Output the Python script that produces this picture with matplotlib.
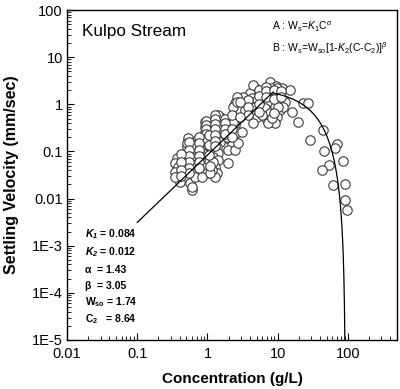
import numpy as np
import matplotlib
matplotlib.use("Agg")
import matplotlib.pyplot as plt

plt.rcParams["font.family"] = ["Liberation Sans", "DejaVu Sans"]
plt.rcParams["mathtext.fontset"] = "custom"
plt.rcParams["mathtext.rm"] = "Liberation Sans"
plt.rcParams["mathtext.it"] = "Liberation Sans:italic"
plt.rcParams["mathtext.bf"] = "Liberation Sans:bold"
plt.rcParams["mathtext.bfit"] = "Liberation Sans:italic:bold"

# measured data (concentration g/L, settling velocity mm/sec)
conc = [
    7.79, 9.49, 11.6, 15.0, 6.19, 4.77, 5.26, 4.04, 4.32, 3.22,
    2.64, 2.47, 3.22, 4.04, 2.91, 3.67, 5.09, 7.30, 10.1, 12.7,
    9.18, 6.61, 10.8, 7.79, 9.80, 7.06, 5.09, 4.46, 9.18, 7.30,
    19.5, 23.0, 27.1, 16.0, 44.3, 28.9, 45.8, 70.2, 65.7, 85.4,
    54.0, 42.9, 61.5, 91.2, 91.2, 97.4, 8.60, 11.9, 8.32, 4.46,
    7.30, 9.80, 5.99, 4.77, 3.43, 2.32, 2.64, 8.32, 10.1,
    2.47, 2.10, 1.90, 2.73, 2.32, 2.24, 1.97, 1.67, 1.51, 1.61,
    1.42, 1.51, 1.61, 1.20, 1.51, 1.37, 1.16, 1.42, 1.20, 1.42,
    1.97, 2.47, 0.924, 0.924, 0.924, 0.987, 0.866, 0.866, 0.838, 0.924,
    1.02, 1.28, 1.37, 1.28, 1.16, 0.711, 0.624, 0.784, 0.711, 0.624,
    0.784, 0.529, 0.512, 0.529, 0.480, 0.565, 0.449, 0.369, 0.345, 0.381,
    0.345, 0.435, 0.480, 0.624, 0.565, 0.603, 0.866, 0.987, 0.666, 0.838,
    2.73, 3.11, 1.42, 2.32, 1.90, 1.51, 0.407, 0.345, 0.435, 0.512,
    0.603, 0.711, 1.20,
    0.95, 0.95, 0.95, 0.95, 0.95, 1.05, 1.05, 1.05,
    1.30, 1.30, 1.30, 1.30, 1.30, 1.30, 1.30,
    1.80, 1.80, 1.80, 1.80, 0.75, 0.75, 0.75, 0.75, 0.75, 0.75,
    0.55, 0.55, 0.55, 0.55, 0.55, 0.55, 0.42, 0.42, 0.42, 0.42,
    2.20, 2.20, 2.20, 5.50, 5.50, 5.50, 5.50, 6.80, 6.80, 6.80,
    8.90, 8.90, 8.90, 11.0, 11.0, 3.80, 3.80, 3.80, 2.90, 2.90,
    1.10, 1.10,
]
velocity = [
    2.96, 2.43, 2.21, 2.00, 2.00, 2.21, 1.82, 1.73, 1.35, 1.42,
    1.42, 1.06, 1.06, 0.962, 0.753, 0.683, 1.23, 1.11, 1.23, 1.11,
    0.872, 0.831, 0.753, 0.650, 0.535, 0.462, 0.535, 0.399, 0.399, 0.399,
    0.419, 1.06, 1.06, 0.683, 0.283, 0.174, 0.101, 0.143, 0.117, 0.0622,
    0.0512, 0.0401, 0.0193, 0.0202, 0.00925, 0.00567, 1.73, 0.872, 2.21, 2.56,
    1.82, 2.21, 0.590, 0.872, 0.753, 0.872, 1.11, 0.509, 0.872,
    0.362, 0.257, 0.192, 0.257, 0.174, 0.136, 0.107, 0.328, 0.535, 0.419,
    0.328, 0.257, 0.201, 0.174, 0.158, 0.123, 0.107, 0.0920, 0.0757, 0.0654,
    0.0564, 0.107, 0.419, 0.328, 0.257, 0.201, 0.158, 0.123, 0.0966, 0.0757,
    0.0593, 0.0464, 0.0346, 0.0285, 0.0401, 0.174, 0.136, 0.117, 0.0920, 0.0721,
    0.0654, 0.192, 0.123, 0.0920, 0.0654, 0.0564, 0.0464, 0.0721, 0.0564, 0.0464,
    0.0364, 0.0346, 0.0271, 0.0401, 0.0212, 0.0151, 0.0464, 0.0346, 0.0285, 0.0285,
    0.150, 0.257, 0.590, 0.419, 0.201, 0.312, 0.0223, 0.0285, 0.0834, 0.150,
    0.0175, 0.0512, 0.0593,
    0.45, 0.37, 0.30, 0.24, 0.18, 0.22, 0.14, 0.085,
    0.60, 0.50, 0.38, 0.30, 0.22, 0.17, 0.13,
    0.50, 0.40, 0.30, 0.24, 0.20, 0.15, 0.11, 0.08, 0.06, 0.045,
    0.16, 0.11, 0.08, 0.06, 0.045, 0.035, 0.09, 0.06, 0.04, 0.03,
    0.60, 0.30, 0.20, 2.00, 1.50, 1.00, 0.70, 2.30, 1.90, 1.40,
    2.00, 1.30, 0.65, 1.90, 1.40, 1.25, 0.90, 0.60, 1.10, 0.55,
    0.035, 0.050,
]

# fitted parameters
K1 = 0.084
K2 = 0.012
alpha = 1.43
beta = 3.05
Wso = 1.74
C2 = 8.64

x_ticks = [0.01, 0.1, 1, 10, 100]
x_labels = ["0.01", "0.1", "1", "10", "100"]
y_ticks = [1e-5, 1e-4, 1e-3, 0.01, 0.1, 1, 10, 100]
y_labels = ["1E-5", "1E-4", "1E-3", "0.01", "0.1", "1", "10", "100"]

fig = plt.figure(figsize=(4, 3.89), dpi=100)
ax = fig.add_axes([0.1675, 0.126, 0.825, 0.848])

ax.scatter(conc, velocity, s=46, facecolors="white", edgecolors="#3a3a3a",
           linewidths=0.8, zorder=2)

# model A (flocculation range)
ca = np.logspace(np.log10(0.1), np.log10(C2), 200)
ax.plot(ca, K1 * ca ** alpha, color="black", lw=0.9, zorder=3)

# model B (hindered settling range)
c_end = C2 + 1.0 / K2
cb = np.concatenate([np.linspace(C2, c_end - 0.5, 400),
                     np.linspace(c_end - 0.5, c_end - 1e-6, 400)])
wb = Wso * (1 - K2 * (cb - C2)) ** beta
ax.plot(cb, wb, color="black", lw=0.9, zorder=3)

ax.set_xscale("log")
ax.set_yscale("log")
ax.set_xlim(0.01, 500)
ax.set_ylim(1e-5, 100)
ax.set_xticks(x_ticks, x_labels)
ax.set_yticks(y_ticks, y_labels)
ax.tick_params(which="both", direction="in", top=False, right=False,
               labelsize=10.5)
ax.tick_params(which="major", length=5, width=0.8)
ax.tick_params(which="minor", length=3, width=0.6)
ax.tick_params(axis="x", pad=5)
ax.tick_params(axis="y", pad=3)
for sp in ax.spines.values():
    sp.set_linewidth(1.0)

ax.set_xlabel("Concentration (g/L)", fontsize=11, fontweight="bold", labelpad=8)
ax.set_ylabel("Settling Velocity (mm/sec)", fontsize=11.5, fontweight="bold",
              labelpad=9)

ax.text(0.045, 0.921, "Kulpo Stream", transform=ax.transAxes, fontsize=12.3)
ax.text(0.62, 0.94, r"A : W$_\mathrm{s}$=$K_1$C$^\alpha$",
        transform=ax.transAxes, fontsize=7.5)
ax.text(0.62, 0.873, r"B : W$_\mathrm{s}$=W$_\mathrm{so}$[1-$K_2$(C-C$_2$)]$^\beta$",
        transform=ax.transAxes, fontsize=7.5)

params = [
    r"$\mathbfit{K}_{\mathbfit{1}}$ = 0.084",
    r"$\mathbfit{K}_{\mathbfit{2}}$ = 0.012",
    "α  = 1.43",
    "β  = 3.05",
    r"W$_{\mathbf{so}}$ = 1.74",
    r"C$_{\mathbf{2}}$   = 8.64",
]
ys = [234, 252, 270, 286, 302, 319]
for s, py in zip(params, ys):
    ax.text(0.055, (340 - py) / 330, s, transform=ax.transAxes, fontsize=7.5,
            fontweight="bold", va="center")

fig.savefig("out.png", dpi=100)
